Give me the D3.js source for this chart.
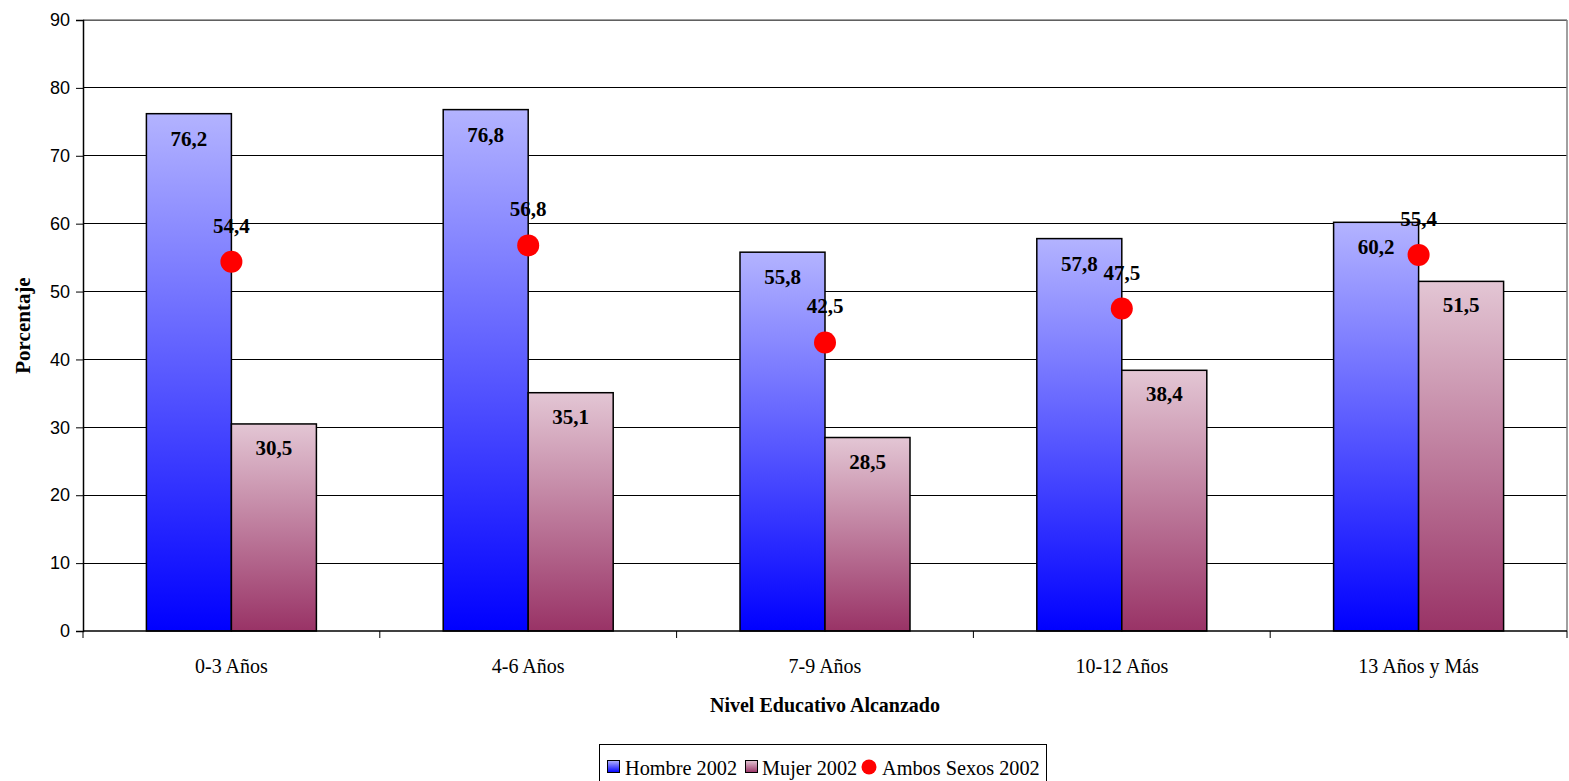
<!DOCTYPE html>
<html><head><meta charset="utf-8">
<script src="https://cdn.jsdelivr.net/npm/d3@7/dist/d3.min.js"></script>
<style>body{margin:0;background:#fff}svg{display:block}</style>
</head><body>
<svg id="c" width="1569" height="781"></svg>
<script>
const categories = ["0-3 Años","4-6 Años","7-9 Años","10-12 Años","13 Años y Más"];
const hombre = [76.2, 76.8, 55.8, 57.8, 60.2];
const mujer = [30.5, 35.1, 28.5, 38.4, 51.5];
const ambos = [54.4, 56.8, 42.5, 47.5, 55.4];
const yTicks = [0,10,20,30,40,50,60,70,80,90];
const seriesNames = ["Hombre 2002","Mujer 2002","Ambos Sexos 2002"];
const fmt = v => String(v.toFixed(1)).replace(".", ",");

const svg = d3.select("#c");
const L = 83, R = 1567, T = 20, B = 631;
const x = d3.scaleBand().domain(categories).range([L, R]).padding(0);
const y = d3.scaleLinear().domain([0, 90]).range([B, T]);
const bw = 85;

const defs = svg.append("defs");
function grad(id, top, bot) {
  const g = defs.append("linearGradient").attr("id", id).attr("x1",0).attr("y1",0).attr("x2",0).attr("y2",1);
  g.append("stop").attr("offset","0%").attr("stop-color",top);
  g.append("stop").attr("offset","100%").attr("stop-color",bot);
}
grad("gH", "#b3b3ff", "#0000ff");
grad("gM", "#e3c6d4", "#993366");

svg.append("g").selectAll("line").data(yTicks.filter(d=>d>0)).join("line")
  .attr("x1", L).attr("x2", R).attr("y1", d=>y(d)).attr("y2", d=>y(d))
  .attr("stroke", "#000").attr("stroke-width", 1).attr("shape-rendering","crispEdges");
svg.append("line").attr("x1", R).attr("x2", R).attr("y1", T).attr("y2", B)
  .attr("stroke", "#808080").attr("stroke-width", 1.5);
svg.append("line").attr("x1", L).attr("x2", R).attr("y1", T).attr("y2", T)
  .attr("stroke", "#808080").attr("stroke-width", 1.5);

const ya = svg.append("g").attr("transform", `translate(${L},0)`)
  .call(d3.axisLeft(y).tickValues(yTicks).tickSize(7).tickPadding(6));
ya.select(".domain").attr("stroke","#000").attr("stroke-width",1.5);
ya.selectAll(".tick line").attr("stroke","#000");
ya.selectAll("text").attr("font-family","Liberation Sans, Arial, sans-serif").attr("font-size",18).attr("fill","#000");

const g = svg.append("g");
g.selectAll("rect.h").data(categories).join("rect").attr("class","h")
  .attr("x", (d)=>x(d)+x.bandwidth()/2-bw).attr("width", bw)
  .attr("y", (d,i)=>y(hombre[i])).attr("height",(d,i)=>y(0)-y(hombre[i]))
  .attr("fill","url(#gH)").attr("stroke","#000").attr("stroke-width",1.5);
g.selectAll("rect.m").data(categories).join("rect").attr("class","m")
  .attr("x", (d)=>x(d)+x.bandwidth()/2).attr("width", bw)
  .attr("y", (d,i)=>y(mujer[i])).attr("height",(d,i)=>y(0)-y(mujer[i]))
  .attr("fill","url(#gM)").attr("stroke","#000").attr("stroke-width",1.5);

const lf = "Liberation Serif, Times New Roman, serif";
const xa = svg.append("g").attr("transform", `translate(0,${B})`);
xa.append("line").attr("x1",L).attr("x2",R).attr("stroke","#000").attr("stroke-width",1.5);
xa.selectAll("line.t").data(categories.concat(["end"])).join("line").attr("class","t")
  .attr("x1",(d,i)=>i<categories.length?x(d):R).attr("x2",(d,i)=>i<categories.length?x(d):R)
  .attr("y1",0).attr("y2",7).attr("stroke","#000");
xa.selectAll("text").data(categories).join("text")
  .attr("x", d=>x(d)+x.bandwidth()/2).attr("y", 42).attr("text-anchor","middle")
  .attr("font-family",lf).attr("font-size",20).text(d=>d);

g.selectAll("text.hl").data(categories).join("text").attr("class","hl")
  .attr("x", d=>x(d)+x.bandwidth()/2-bw/2).attr("y",(d,i)=>y(hombre[i])+32)
  .attr("text-anchor","middle").attr("font-family",lf).attr("font-weight","bold").attr("font-size",21)
  .text((d,i)=>fmt(hombre[i]));
g.selectAll("text.ml").data(categories).join("text").attr("class","ml")
  .attr("x", d=>x(d)+x.bandwidth()/2+bw/2).attr("y",(d,i)=>y(mujer[i])+31)
  .attr("text-anchor","middle").attr("font-family",lf).attr("font-weight","bold").attr("font-size",21)
  .text((d,i)=>fmt(mujer[i]));

g.selectAll("circle").data(categories).join("circle")
  .attr("cx", d=>x(d)+x.bandwidth()/2).attr("cy",(d,i)=>y(ambos[i])).attr("r",11).attr("fill","#ff0000");
g.selectAll("text.al").data(categories).join("text").attr("class","al")
  .attr("x", d=>x(d)+x.bandwidth()/2).attr("y",(d,i)=>y(ambos[i])-29)
  .attr("text-anchor","middle").attr("font-family",lf).attr("font-weight","bold").attr("font-size",21)
  .text((d,i)=>fmt(ambos[i]));

svg.append("text").attr("x", 825).attr("y", 712).attr("text-anchor","middle")
  .attr("font-family",lf).attr("font-weight","bold").attr("font-size",20).text("Nivel Educativo Alcanzado");
svg.append("text").attr("transform", `translate(30,${(T+B)/2}) rotate(-90)`).attr("text-anchor","middle")
  .attr("font-family",lf).attr("font-weight","bold").attr("font-size",21).text("Porcentaje");

const lg = svg.append("g");
lg.append("rect").attr("x",599.5).attr("y",744.5).attr("width",447).attr("height",45)
  .attr("fill","#fff").attr("stroke","#000").attr("stroke-width",1);
const items = [
  {name: seriesNames[0], type:"rect", fill:"url(#gH)", x:607, tx:625},
  {name: seriesNames[1], type:"rect", fill:"url(#gM)", x:745, tx:762},
  {name: seriesNames[2], type:"circle", fill:"#ff0000", x:869, tx:882}
];
items.forEach(it=>{
  if (it.type==="rect") {
    lg.append("rect").attr("x",it.x+0.5).attr("y",760.5).attr("width",12).attr("height",12)
      .attr("fill",it.fill).attr("stroke","#000").attr("stroke-width",1);
  } else {
    lg.append("circle").attr("cx",it.x).attr("cy",767).attr("r",7.5).attr("fill",it.fill);
  }
  lg.append("text").attr("x", it.tx).attr("y",775)
    .attr("font-family",lf).attr("font-size",20.3).text(it.name);
});
</script>
</body></html>
